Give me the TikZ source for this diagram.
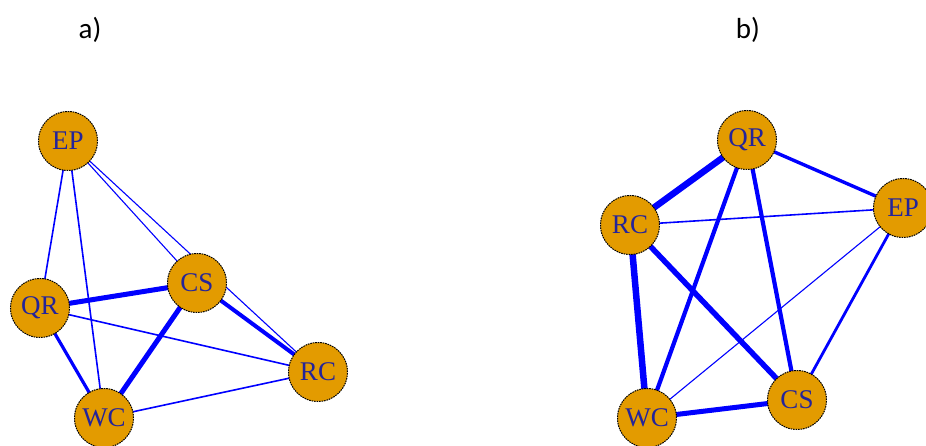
\documentclass[tikz,border=0pt]{standalone}
\usepackage{fontspec}
\setmainfont{Liberation Serif}
\newfontfamily\labelfont{Carlito}
\begin{document}
\begin{tikzpicture}[x=1pt,y=-1pt,
  vtx/.style={circle,draw=black,dash pattern=on 1.6pt off 0.9pt,line width=1pt,
    fill=vorange,minimum size=59pt,inner sep=0pt,text=vtext,
    font=\fontsize{27}{27}\selectfont},
  edge/.style={draw=eblue,line cap=round},
  panel/.style={font=\labelfont\fontsize{29}{29}\selectfont,text=black}]
\definecolor{vorange}{HTML}{E39B00}
\definecolor{vtext}{HTML}{24249A}
\definecolor{eblue}{HTML}{0000FF}
\useasboundingbox (0,0) rectangle (926,446);
\node[panel] (la) at (90,30) {a)};
\node[panel] (lb) at (748,30) {b)};
% panel a
\coordinate (aEP) at (68,141);
\coordinate (aQR) at (40,308);
\coordinate (aCS) at (197,283);
\coordinate (aRC) at (318,372);
\coordinate (aWC) at (104,418);
\draw[edge,line width=1.6pt] (aEP) -- (aQR);
\draw[edge,line width=1.6pt] (aEP) -- (aWC);
\draw[edge,line width=1.1pt] (aEP) -- (aCS);
\draw[edge,line width=1.1pt] (aEP) -- (aRC);
\draw[edge,line width=5pt] (aQR) -- (aCS);
\draw[edge,line width=1.6pt] (aQR) -- (aRC);
\draw[edge,line width=3.2pt] (aQR) -- (aWC);
\draw[edge,line width=5pt] (aCS) -- (aWC);
\draw[edge,line width=4pt] (aCS) -- (aRC);
\draw[edge,line width=1.6pt] (aWC) -- (aRC);
\node[vtx] (nEPa) at (aEP) {EP};
\node[vtx] (nQRa) at (aQR) {QR};
\node[vtx] (nCSa) at (aCS) {CS};
\node[vtx] (nRCa) at (aRC) {RC};
\node[vtx] (nWCa) at (aWC) {WC};
% panel b
\coordinate (bQR) at (747,140);
\coordinate (bRC) at (630,225);
\coordinate (bEP) at (903,208);
\coordinate (bCS) at (797,400);
\coordinate (bWC) at (647,418);
\draw[edge,line width=6.5pt] (bQR) -- (bRC);
\draw[edge,line width=3.4pt] (bQR) -- (bEP);
\draw[edge,line width=4.2pt] (bQR) -- (bWC);
\draw[edge,line width=4.2pt] (bQR) -- (bCS);
\draw[edge,line width=1.6pt] (bRC) -- (bEP);
\draw[edge,line width=6.5pt] (bRC) -- (bWC);
\draw[edge,line width=5.5pt] (bRC) -- (bCS);
\draw[edge,line width=1.1pt] (bEP) -- (bWC);
\draw[edge,line width=2.8pt] (bEP) -- (bCS);
\draw[edge,line width=5pt] (bWC) -- (bCS);
\node[vtx] (nQRb) at (bQR) {QR};
\node[vtx] (nRCb) at (bRC) {RC};
\node[vtx] (nEPb) at (bEP) {EP};
\node[vtx] (nCSb) at (bCS) {CS};
\node[vtx] (nWCb) at (bWC) {WC};
\end{tikzpicture}
\end{document}
